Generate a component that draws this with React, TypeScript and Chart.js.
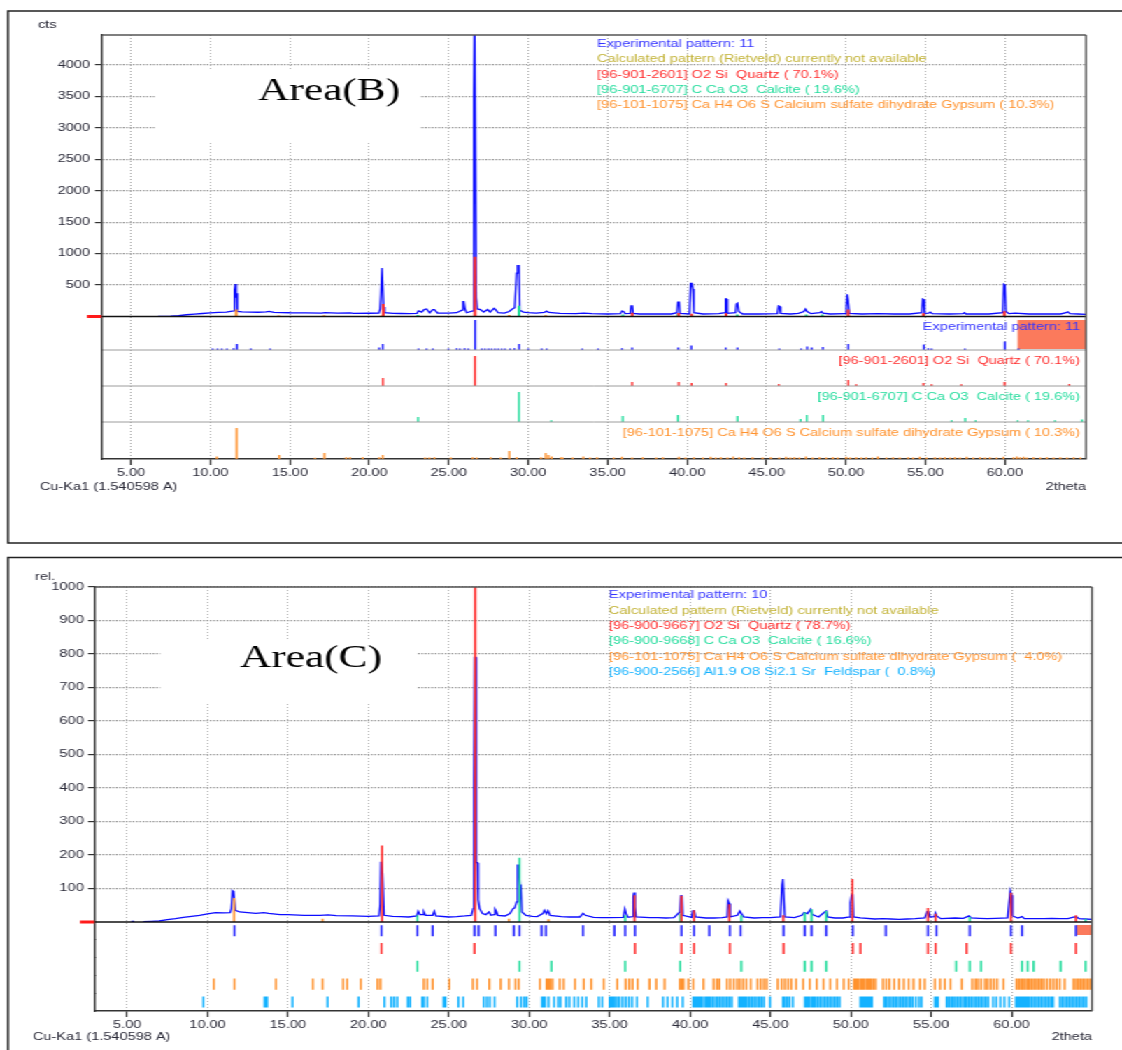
import React, { useEffect, useRef } from 'react';
import { Chart, registerables } from 'chart.js';

Chart.register(...registerables);

// ---------------- data ----------------
const X_TICKS = [5, 10, 15, 20, 25, 30, 35, 40, 45, 50, 55, 60];
const B_Y_TICKS = [0, 500, 1000, 1500, 2000, 2500, 3000, 3500, 4000];
const C_Y_TICKS = [0, 100, 200, 300, 400, 500, 600, 700, 800, 900, 1000];

const B_LEGEND = [
  'Experimental pattern: 11',
  'Calculated pattern (Rietveld) currently not available',
  '[96-901-2601] O2 Si  Quartz ( 70.1%)',
  '[96-901-6707] C Ca O3  Calcite ( 19.6%)',
  '[96-101-1075] Ca H4 O6 S Calcium sulfate dihydrate Gypsum ( 10.3%)',
];
const B_ROW_LABELS = [
  'Experimental pattern: 11',
  '[96-901-2601] O2 Si  Quartz ( 70.1%)',
  '[96-901-6707] C Ca O3  Calcite ( 19.6%)',
  '[96-101-1075] Ca H4 O6 S Calcium sulfate dihydrate Gypsum ( 10.3%)',
];
const C_LEGEND = [
  'Experimental pattern: 10',
  'Calculated pattern (Rietveld) currently not available',
  '[96-900-9667] O2 Si  Quartz ( 78.7%)',
  '[96-900-9668] C Ca O3  Calcite ( 16.6%)',
  '[96-101-1075] Ca H4 O6 S Calcium sulfate dihydrate Gypsum (  4.0%)',
  '[96-900-2566] Al1.9 O8 Si2.1 Sr  Feldspar (  0.8%)',
];

// Area(B) experimental pattern [2theta, cts]
const B_PATTERN = [
  [6.7, 3], [7.5, 5], [8.0, 12], [8.5, 28], [9.0, 38], [9.5, 48], [10.0, 58], [10.5, 66], [11.0, 70],
  [11.47, 90], [11.52, 420], [11.57, 517], [11.62, 300], [11.66, 370], [11.7, 80], [12.0, 75], [12.5, 70],
  [13.0, 68], [13.5, 72], [13.7, 80], [14.0, 66], [15.0, 60], [16.0, 58], [17.0, 55], [17.2, 62], [18.0, 55],
  [18.8, 58], [19.0, 50], [20.0, 52], [20.6, 55], [20.68, 120], [20.73, 340], [20.8, 770], [20.86, 770],
  [20.9, 150], [20.96, 60], [21.5, 50], [22.0, 48], [22.5, 45], [23.0, 50], [23.1, 90], [23.3, 70],
  [23.45, 110], [23.6, 120], [23.8, 60], [24.0, 110], [24.1, 110], [24.3, 55], [25.0, 55], [25.5, 60],
  [25.83, 100], [25.9, 235], [25.95, 235], [26.02, 120], [26.12, 60], [26.52, 90], [26.58, 3500],
  [26.63, 4800], [26.68, 4800], [26.73, 300], [26.8, 120], [27.0, 110], [27.2, 70], [27.45, 110],
  [27.6, 70], [27.85, 130], [27.95, 110], [28.1, 60], [28.5, 55], [28.8, 80], [29.0, 120], [29.15, 140],
  [29.27, 690], [29.33, 808], [29.42, 808], [29.47, 100], [29.7, 70], [30.0, 60], [30.5, 55], [31.0, 65],
  [31.15, 85], [31.3, 65], [32.0, 50], [33.0, 45], [33.5, 55], [34.0, 45], [35.0, 40], [35.8, 45],
  [35.9, 87], [36.0, 80], [36.1, 45], [36.42, 50], [36.47, 170], [36.55, 180], [36.6, 50], [37.0, 40],
  [38.0, 40], [39.0, 40], [39.36, 60], [39.42, 230], [39.5, 230], [39.55, 50], [40.15, 40], [40.22, 528],
  [40.3, 528], [40.36, 437], [40.42, 60], [41.0, 40], [42.0, 45], [42.37, 60], [42.42, 278], [42.48, 278],
  [42.53, 50], [43.05, 60], [43.1, 200], [43.17, 213], [43.25, 80], [43.5, 40], [44.5, 40], [45.68, 45],
  [45.75, 168], [45.82, 160], [45.88, 50], [46.5, 40], [47.0, 50], [47.35, 80], [47.45, 120], [47.55, 80],
  [47.8, 45], [48.35, 60], [48.45, 78], [48.55, 55], [49.0, 40], [49.95, 45], [50.02, 150], [50.07, 353],
  [50.13, 262], [50.2, 50], [51.0, 40], [52.0, 45], [53.0, 40], [54.0, 40], [54.76, 60], [54.82, 278],
  [54.88, 270], [54.94, 50], [55.2, 55], [55.3, 70], [55.42, 45], [56.5, 40], [57.35, 45], [57.45, 60],
  [57.55, 40], [59.0, 40], [59.86, 60], [59.93, 512], [60.0, 500], [60.06, 80], [60.25, 45], [60.65, 55],
  [61.5, 40], [62.5, 40], [63.5, 40], [63.85, 60], [63.95, 75], [64.1, 45], [64.6, 40], [65.1, 35],
];
// reference sticks drawn inside the Area(B) main plot [2theta, cts]
const B_QTZ_MAIN = [[20.88, 200], [26.65, 950], [36.54, 60], [39.47, 55], [40.28, 45], [42.45, 50], [50.14, 110], [54.87, 50], [59.96, 85]];
const B_CAL_MAIN = [[23.05, 25], [29.42, 170], [35.96, 30], [39.4, 35], [43.15, 30], [47.5, 30], [48.5, 30]];
const B_GYP_MAIN = [[11.62, 110], [14.3, 15], [17.15, 20], [20.75, 15], [28.8, 25], [31.1, 20]];
// stick rows of Area(B) [2theta, relative height]
const B_EXP_ROW = [
  [10.14, 5], [10.45, 5], [10.72, 5], [11.04, 5], [11.46, 6], [11.67, 20], [12.55, 5], [13.76, 5], [20.62, 8],
  [20.85, 20], [23.1, 5], [23.6, 5], [24.0, 5], [24.98, 5], [25.5, 6], [25.7, 5], [26.0, 6], [26.23, 5],
  [26.66, 100], [27.08, 5], [27.28, 5], [27.5, 5], [27.7, 5], [27.91, 5], [28.12, 5], [28.33, 5], [28.54, 5],
  [28.86, 5], [29.13, 6], [29.43, 20], [30.0, 5], [30.85, 5], [31.16, 5], [33.4, 5], [34.4, 5], [35.9, 6],
  [36.54, 8], [39.44, 8], [40.26, 15], [42.43, 8], [43.17, 8], [45.8, 5], [47.17, 5], [47.55, 12], [47.84, 8],
  [48.54, 10], [50.14, 20], [54.9, 18], [55.17, 6], [55.38, 5], [57.48, 5], [60.0, 28], [60.85, 5],
];
const B_QTZ_ROW = [
  [20.86, 27], [26.65, 100], [36.54, 13], [39.47, 13], [40.28, 10], [42.45, 10], [45.77, 7], [50.14, 20],
  [50.64, 6], [54.87, 10], [55.38, 6], [57.25, 6], [59.98, 13], [64.05, 7],
];
const B_CAL_ROW = [
  [23.07, 17], [29.42, 100], [31.45, 6], [35.95, 20], [39.42, 23], [43.17, 20], [47.14, 10], [47.53, 23],
  [48.55, 23], [56.65, 6], [57.5, 13], [58.15, 6], [60.8, 6], [61.45, 6], [63.15, 6], [64.85, 8],
];
const B_GYP_ROW = [
  [10.41, 8], [11.65, 100], [14.33, 13], [16.59, 4], [17.18, 19], [18.54, 6], [18.79, 6], [19.59, 6],
  [20.62, 6], [20.85, 13], [23.51, 5], [23.78, 5], [24.1, 6], [25.13, 5], [26.51, 6], [26.76, 5], [27.64, 6],
  [28.27, 5], [28.81, 26], [29.28, 6], [30.81, 6], [31.1, 19], [31.27, 13], [31.48, 8], [32.07, 6], [32.17, 5],
  [32.8, 5], [33.47, 8], [33.89, 5], [34.33, 6], [35.38, 5], [35.9, 7], [36.54, 5], [37.21, 6], [38.05, 5],
  [38.47, 6], [39.48, 7], [39.9, 5], [40.43, 6], [41.0, 5], [41.48, 7], [41.8, 5], [42.12, 6], [42.54, 5],
  [42.9, 8], [43.27, 6], [43.59, 5], [44.12, 6], [44.75, 5], [45.27, 6], [45.8, 5], [46.22, 7], [46.49, 5],
  [46.75, 6], [47.06, 5], [47.48, 8], [47.9, 5], [48.33, 6], [48.75, 5], [49.17, 6], [49.48, 5], [50.01, 7],
  [50.26, 5], [50.64, 6], [50.96, 5], [51.27, 6], [51.65, 5], [52.01, 8], [52.54, 5], [52.96, 6], [53.38, 5],
  [53.91, 6], [54.22, 5], [54.64, 7], [55.06, 5], [55.59, 6], [55.91, 5], [56.22, 6], [56.54, 5], [56.85, 6],
  [57.17, 5], [57.59, 7], [58.01, 5], [58.43, 6], [58.75, 5], [59.06, 6], [59.48, 5], [59.91, 7], [60.54, 6],
  [60.75, 8], [60.96, 6], [61.17, 7], [61.38, 5], [61.8, 6], [62.22, 5], [62.64, 6], [63.06, 5], [63.48, 6],
  [63.91, 5], [64.33, 6], [64.75, 5],
];

// Area(C) experimental pattern [2theta, rel.]
const C_PATTERN = [
  [5.25, 2], [5.45, 2], [5.46, null], [6.0, 1], [6.5, 2], [7.0, 3], [7.5, 7], [8.0, 10], [8.5, 14], [9.0, 17],
  [9.5, 20], [10.0, 24], [10.5, 28], [11.0, 27], [11.4, 28], [11.48, 40], [11.55, 93], [11.62, 90],
  [11.68, 60], [11.73, 35], [12.0, 30], [12.5, 28], [13.0, 26], [13.5, 28], [13.8, 26], [14.5, 22], [15.0, 22],
  [16.0, 20], [17.0, 20], [17.5, 21], [18.0, 19], [19.0, 18], [20.0, 17], [20.66, 18], [20.73, 50],
  [20.78, 180], [20.84, 180], [20.88, 146], [20.93, 146], [20.98, 20], [21.5, 17], [22.0, 16], [22.5, 15],
  [23.0, 18], [23.1, 32], [23.2, 22], [23.4, 22], [23.45, 30], [23.55, 20], [24.0, 20], [24.1, 32], [24.2, 18],
  [25.0, 15], [25.5, 16], [26.0, 18], [26.4, 20], [26.52, 40], [26.56, 425], [26.62, 790], [26.68, 790],
  [26.72, 177], [26.78, 177], [26.83, 66], [26.92, 40], [27.1, 25], [27.3, 22], [27.5, 30], [27.62, 20],
  [27.82, 22], [27.88, 38], [27.95, 32], [28.05, 20], [28.5, 18], [28.8, 25], [29.0, 40], [29.1, 42],
  [29.22, 60], [29.28, 170], [29.35, 170], [29.42, 110], [29.48, 110], [29.55, 30], [29.8, 20], [30.2, 17],
  [30.5, 16], [30.85, 25], [30.95, 35], [31.07, 25], [31.17, 34], [31.3, 20], [32.0, 16], [32.5, 15],
  [33.15, 15], [33.35, 26], [33.5, 20], [34.0, 14], [34.5, 13], [35.0, 13], [35.85, 14], [35.95, 39],
  [36.03, 25], [36.15, 14], [36.42, 16], [36.47, 76], [36.52, 88], [36.58, 45], [36.65, 15], [37.5, 13],
  [38.0, 13], [38.5, 12], [39.0, 13], [39.37, 30], [39.42, 78], [39.5, 78], [39.55, 20], [40.1, 14],
  [40.17, 33], [40.27, 33], [40.35, 15], [41.0, 12], [41.5, 12], [42.0, 13], [42.32, 15], [42.37, 63],
  [42.45, 55], [42.5, 15], [42.95, 20], [43.1, 33], [43.2, 25], [43.35, 15], [44.0, 12], [44.5, 13],
  [45.0, 13], [45.62, 15], [45.72, 110], [45.78, 128], [45.84, 70], [45.9, 15], [46.5, 13], [46.95, 20],
  [47.1, 28], [47.3, 25], [47.5, 38], [47.62, 22], [48.0, 15], [48.38, 30], [48.48, 33], [48.56, 15],
  [49.0, 12], [49.5, 12], [49.93, 15], [49.98, 58], [50.05, 81], [50.12, 81], [50.17, 15], [50.6, 12],
  [51.5, 9], [52.0, 10], [52.5, 9], [53.0, 8], [53.5, 9], [54.0, 10], [54.6, 12], [54.75, 31], [54.85, 31],
  [54.93, 15], [55.2, 16], [55.26, 27], [55.34, 18], [55.6, 10], [56.5, 12], [57.0, 11], [57.35, 18],
  [57.48, 12], [58.0, 11], [58.5, 10], [59.0, 11], [59.75, 12], [59.85, 60], [59.92, 93], [60.0, 80],
  [60.06, 18], [60.4, 12], [60.65, 16], [60.8, 10], [61.5, 10], [62.0, 10], [62.5, 11], [63.0, 10],
  [63.5, 10], [63.9, 15], [64.05, 15], [64.2, 10], [64.6, 9], [65.0, 8],
];
const C_QTZ_MAIN = [[20.85, 228], [26.64, 1050], [36.55, 80], [39.47, 78], [40.25, 35], [42.45, 53], [45.8, 20], [50.1, 128], [54.8, 42], [55.27, 25], [59.96, 87], [64.0, 20]];
const C_CAL_MAIN = [[23.05, 20], [29.4, 192], [35.97, 20], [39.39, 25], [43.19, 20], [47.14, 28], [47.56, 38], [48.47, 33], [57.4, 15], [64.6, 10]];
const C_GYP_MAIN = [[11.65, 72], [17.15, 10], [28.74, 10], [31.2, 8]];
// stick rows of Area(C) (2theta positions)
const C_EXP_ROW = [11.67, 20.81, 23.05, 24.0, 26.6, 26.85, 27.9, 29.05, 29.4, 30.77, 31.04, 33.35, 35.3, 35.97, 36.58, 39.47, 40.25, 41.2, 42.48, 43.15, 45.82, 47.14, 47.56, 48.47, 50.13, 52.18, 54.8, 55.33, 57.4, 59.96, 60.65, 64.0];
const C_QTZ_ROW = [20.81, 26.6, 36.58, 39.47, 40.25, 42.48, 45.82, 50.13, 50.6, 54.8, 55.27, 57.2, 59.96, 64.0];
const C_CAL_ROW = [23.05, 29.4, 31.38, 35.97, 39.39, 43.19, 47.14, 47.56, 48.47, 56.55, 57.4, 58.1, 60.65, 61.0, 61.37, 63.05, 64.6];
const C_GYP_ROW = [
  10.39, 11.67, 14.25, 16.55, 17.15, 18.43, 18.68, 19.53, 20.57, 20.75, 23.45, 23.66, 24.0, 25.04, 26.5, 26.76,
  27.52, 28.23, 28.74, 29.15, 29.35, 30.67, 31.08, 31.2, 31.3, 31.45, 31.9, 32.15, 32.85, 33.4, 33.86, 34.64,
  35.48, 36.0, 36.22, 36.43, 36.74, 37.48, 37.9, 38.42, 39.37, 39.5, 39.6, 39.9, 40.2, 40.84, 41.47, 41.68,
  41.83, 42.3, 42.5, 42.73, 42.94, 43.1, 43.3, 43.5, 43.78, 44.2, 44.4, 44.6, 44.77, 45.46, 45.7, 45.9, 46.1,
  46.3, 46.6, 47.04, 47.45, 47.88, 48.3, 48.72, 49.14, 49.56, 49.87, 50.2, 50.32, 50.45, 50.6, 50.72, 50.85,
  51.0, 51.12, 51.25, 51.4, 51.55, 52.0, 52.2, 52.4, 52.7, 53.0, 53.3, 53.6, 53.9, 54.3, 54.6, 55.23, 55.55,
  55.85, 56.2, 56.9, 57.55, 57.75, 57.9, 58.1, 58.35, 58.5, 58.7, 58.9, 59.1, 59.5, 60.3, 60.45, 60.6, 60.7,
  60.85, 61.0, 61.1, 61.25, 61.4, 61.55, 61.7, 61.85, 62.0, 62.2, 62.4, 62.6, 62.8, 63.0, 63.3, 63.85, 64.0,
  64.15, 64.3, 64.45, 64.6, 64.75, 64.9,
];
const C_FSP_ROW = [
  9.74, 13.55, 13.62, 13.7, 15.28, 17.46, 19.39, 21.0, 21.42, 21.6, 21.8, 22.45, 22.6, 23.35, 23.45, 23.66,
  24.68, 24.8, 25.6, 25.9, 27.17, 27.37, 27.55, 27.85, 29.25, 29.5, 29.7, 29.85, 30.8, 30.9, 30.98, 31.2,
  31.55, 31.8, 31.95, 32.3, 32.5, 32.8, 33.05, 33.3, 33.55, 34.33, 34.54, 35.0, 35.1, 35.2, 35.3, 35.45,
  35.6, 35.8, 36.0, 36.2, 36.4, 36.7, 37.37, 38.32, 38.6, 38.9, 39.2, 39.55, 40.2, 40.32, 40.45, 40.58,
  40.7, 40.85, 41.0, 41.12, 41.25, 41.4, 41.55, 41.7, 41.85, 42.0, 42.15, 42.3, 42.45, 42.6, 43.05, 43.15,
  43.25, 43.35, 43.45, 43.55, 43.7, 43.85, 44.0, 44.15, 44.3, 44.45, 44.6, 44.98, 45.78, 45.9, 46.05, 46.2,
  46.4, 47.15, 47.28, 47.4, 47.55, 47.68, 47.8, 47.95, 48.1, 48.25, 48.4, 48.55, 48.7, 48.85, 49.0, 49.15,
  49.3, 50.6, 50.68, 50.76, 50.84, 50.92, 51.0, 51.08, 51.16, 51.24, 51.32, 52.08, 52.2, 52.35, 52.5, 52.65,
  52.8, 52.95, 53.1, 53.25, 53.4, 53.55, 53.7, 53.85, 54.05, 54.25, 54.4, 55.23, 55.33, 55.42, 55.96, 56.1,
  56.25, 56.35, 56.5, 56.65, 56.8, 56.95, 57.1, 57.2, 57.35, 57.5, 57.65, 57.8, 57.95, 58.1, 58.25, 58.4,
  58.55, 58.85, 59.05, 59.3, 59.55, 59.85, 60.27, 60.4, 60.5, 60.6, 60.7, 60.8, 60.9, 61.0, 61.1, 61.25,
  61.4, 61.55, 61.7, 61.85, 62.0, 62.15, 62.3, 62.45, 62.58, 63.0, 63.15, 63.3, 63.45, 63.6, 63.75, 63.9,
  64.05, 64.2, 64.35, 64.5, 64.65,
];

// ---------------- styling ----------------
const LW = 802; // logical width; the figure is stretched horizontally to 1122 px
const SX = 1122 / LW;
const FONT = '"Liberation Sans", Arial, sans-serif';
const FS = 10.4;
const TICK_COLOR = '#2a2a38';
const AXIS = '#333';
const GRID = '#9a9a9a';
const HGRID = '#8a8a8a';
const PATTERN_BLUE = '#0d0dff';
const BLUE = '#3434ff';
const OLIVE = '#c2b236';
const RED = '#ff2e2e';
const GREEN = '#22dc9c';
const ORANGE = '#ff922e';
const LBLUE = '#14b2ff';
const SALMON = '#fb7a5c';

const toLine = (pairs: any[][]) => pairs.map(([x, y]) => ({ x, y }));
const toSticks = (pairs: number[][]) => {
  const out: any[] = [];
  for (const [x, h] of pairs) out.push({ x, y: 0 }, { x, y: h }, { x, y: null });
  return out;
};
const toMarks = (xs: number[], lo: number, hi: number) => {
  const out: any[] = [];
  for (const x of xs) out.push({ x, y: lo }, { x, y: hi }, { x, y: null });
  return out;
};

const ds = (data: any[], color: string, yAxisID: string, width: number, order: number) => ({
  type: 'line', data, borderColor: color, backgroundColor: color, borderWidth: width,
  pointRadius: 0, pointHoverRadius: 0, fill: false, tension: 0, spanGaps: false,
  borderCapStyle: 'butt', yAxisID, xAxisID: 'x', order,
});

const xScale = (min: number, max: number) => ({
  type: 'linear', position: 'bottom', min, max,
  afterBuildTicks: (s: any) => { s.ticks = X_TICKS.map((v) => ({ value: v })); },
  afterFit: (s: any) => { s.height = 30; },
  ticks: {
    callback: (v: any) => Number(v).toFixed(2), font: { family: FONT, size: FS }, color: TICK_COLOR,
    padding: 2, maxRotation: 0, autoSkip: false,
  },
  grid: { color: GRID, lineWidth: 0.8, tickLength: 6, tickColor: AXIS, tickWidth: 1.2 },
  border: { display: true, color: AXIS, width: 1.4, dash: [1, 2] },
});

const mainY = (max: number, ticks: number[], sw: number, width: number, pad: number) => ({
  type: 'linear', position: 'left', stack: 'v', stackWeight: sw, weight: 10, min: 0, max,
  afterBuildTicks: (s: any) => { s.ticks = ticks.map((v) => ({ value: v })); },
  afterFit: (s: any) => { s.width = width; },
  ticks: {
    callback: (v: any) => (v === 0 ? '' : String(v)), font: { family: FONT, size: FS }, color: TICK_COLOR,
    padding: pad, autoSkip: false,
  },
  grid: {
    color: (c: any) => (c.tick && c.tick.value === 0 ? 'rgba(0,0,0,0)' : HGRID),
    lineWidth: 1.2, drawOnChartArea: true, tickLength: 5, tickColor: AXIS, tickWidth: 1.2,
  },
  border: { display: true, color: AXIS, width: 1.4, dash: [1.2, 1.2] },
});

const rowY = (weight: number, sw: number, max: number, width: number) => ({
  type: 'linear', position: 'left', stack: 'v', stackWeight: sw, weight, min: 0, max,
  afterFit: (s: any) => { s.width = width; },
  ticks: { display: false },
  grid: { display: false, drawTicks: false },
  border: { display: true, color: AXIS, width: 1.4 },
});

const line = (ctx: CanvasRenderingContext2D, x1: number, y1: number, x2: number, y2: number) => {
  ctx.beginPath(); ctx.moveTo(x1, y1); ctx.lineTo(x2, y2); ctx.stroke();
};

function decor(d: any) {
  return {
    id: 'decor',
    beforeDatasetsDraw(chart: any) {
      const { ctx, chartArea: a, scales } = chart;
      ctx.save();
      ctx.fillStyle = '#fff';
      ctx.fillRect(d.whiteBox[0], d.whiteBox[1], d.whiteBox[2], d.whiteBox[3]);
      const r = scales[d.salmon.axis];
      const x0 = scales.x.getPixelForValue(d.salmon.from);
      ctx.fillStyle = SALMON;
      ctx.fillRect(x0, r.top + d.salmon.t, a.right - x0, r.bottom - r.top - d.salmon.t - d.salmon.b);
      ctx.restore();
    },
    afterDatasetsDraw(chart: any) {
      const { ctx, chartArea: a, scales } = chart;
      const y0 = scales.y.getPixelForValue(0);
      ctx.save();
      ctx.strokeStyle = '#9c9c9c'; ctx.lineWidth = 1;
      for (const id of d.separators) line(ctx, a.left, scales[id].bottom, a.right, scales[id].bottom);
      ctx.strokeStyle = '#111'; ctx.lineWidth = 1.3;
      line(ctx, a.left, y0, a.right, y0);
      ctx.strokeStyle = '#ff1a1a'; ctx.lineWidth = 3;
      line(ctx, d.markerX, y0, a.left - 0.5, y0);
      ctx.strokeStyle = '#555'; ctx.lineWidth = 1.4;
      line(ctx, a.left, a.top, a.right, a.top);
      line(ctx, a.right, a.top, a.right, a.bottom);
      ctx.restore();
    },
    afterDraw(chart: any) {
      const { ctx, chartArea: a, scales } = chart;
      ctx.save();
      // panel frame
      ctx.strokeStyle = '#222'; ctx.lineWidth = 1.5;
      ctx.strokeRect(d.box[0], d.box[1], d.box[2], d.box[3]);
      // title
      ctx.fillStyle = '#000';
      ctx.font = `31px "Liberation Serif", "Times New Roman", serif`;
      ctx.textBaseline = 'alphabetic'; ctx.textAlign = 'left';
      ctx.fillText(d.title, d.titleX, d.titleY);
      // legend
      ctx.font = `${FS}px ${FONT}`;
      ctx.textBaseline = 'middle';
      d.legend.forEach((t: string, i: number) => {
        ctx.fillStyle = d.legendColors[i];
        ctx.fillText(t, d.legendX, d.legendY[i]);
      });
      // row labels
      ctx.textAlign = 'right';
      (d.rowLabels || []).forEach((t: string, i: number) => {
        const r = scales[d.rowIds[i]];
        ctx.fillStyle = d.rowColors[i];
        ctx.fillText(t, a.right - 4.3, r.top + 11);
      });
      // axis captions
      ctx.fillStyle = TICK_COLOR;
      ctx.textAlign = 'left';
      ctx.fillText(d.unit, d.unitX, d.unitY);
      ctx.fillText('Cu-Ka1 (1.540598 A)', d.cuX, 487);
      ctx.textAlign = 'right';
      ctx.fillText('2theta', a.right, 487);
      ctx.restore();
    },
  };
}

function buildTop(): any {
  const left = 102 / SX;
  const right = 1086 / SX;
  const datasets = [
    ds(toLine(B_PATTERN), PATTERN_BLUE, 'y', 1.3, 5),
    ds(toSticks(B_QTZ_MAIN), RED, 'y', 2, 1),
    ds(toSticks(B_CAL_MAIN), GREEN, 'y', 2, 2),
    ds(toSticks(B_GYP_MAIN), ORANGE, 'y', 2, 3),
    ds(toSticks(B_EXP_ROW), '#2020ff', 'r1', 1.4, 0),
    ds(toSticks(B_QTZ_ROW), RED, 'r2', 1.4, 0),
    ds(toSticks(B_CAL_ROW), GREEN, 'r3', 1.4, 0),
    ds(toSticks(B_GYP_ROW), ORANGE, 'r4', 1.4, 0),
  ];
  return {
    type: 'line',
    data: { datasets },
    options: {
      responsive: false, animation: false, devicePixelRatio: 1, events: [],
      layout: { padding: { left: 0, top: 35, right: LW - right, bottom: 61 } },
      plugins: { legend: { display: false }, tooltip: { enabled: false } },
      scales: {
        x: xScale(3.18, 65.1),
        y: mainY(4478, B_Y_TICKS, 281.5, left, 3.6),
        r1: rowY(4, 33.5, 111.7, left),
        r2: rowY(3, 36, 120, left),
        r3: rowY(2, 36, 120, left),
        r4: rowY(1, 37, 119, left),
      },
    },
    plugins: [decor({
      whiteBox: [155 / SX, 70, 265 / SX, 73],
      salmon: { axis: 'r1', from: 60.8, t: 3.5, b: 1 },
      separators: ['r1', 'r2', 'r3'],
      markerX: 87 / SX,
      box: [8 / SX, 11, 900, 532],
      title: 'Area(B)', titleX: 258 / SX, titleY: 100,
      legend: B_LEGEND, legendColors: [BLUE, OLIVE, RED, GREEN, ORANGE],
      legendX: 597 / SX, legendY: [44, 59.5, 75, 90, 105.5],
      rowLabels: B_ROW_LABELS, rowIds: ['r1', 'r2', 'r3', 'r4'], rowColors: [BLUE, RED, GREEN, ORANGE],
      unit: 'cts', unitX: 38 / SX, unitY: 25,
      cuX: 40 / SX,
    })],
  };
}

function buildBottom(): any {
  const left = 95 / SX;
  const right = 1092 / SX;
  const LO = 0.2;
  const HI = 0.82;
  const datasets = [
    ds(toLine(C_PATTERN), PATTERN_BLUE, 'y', 1.3, 5),
    ds(toSticks(C_QTZ_MAIN), RED, 'y', 1.6, 1),
    ds(toSticks(C_CAL_MAIN), GREEN, 'y', 1.6, 2),
    ds(toSticks(C_GYP_MAIN), ORANGE, 'y', 1.6, 3),
    ds(toMarks(C_EXP_ROW, LO, HI), '#2020ff', 'r1', 1.5, 0),
    ds(toMarks(C_QTZ_ROW, LO, HI), RED, 'r2', 1.5, 0),
    ds(toMarks(C_CAL_ROW, LO, HI), GREEN, 'r3', 1.5, 0),
    ds(toMarks(C_GYP_ROW, LO, HI), ORANGE, 'r4', 1.5, 0),
    ds(toMarks(C_FSP_ROW, LO, HI), LBLUE, 'r5', 1.5, 0),
  ];
  return {
    type: 'line',
    data: { datasets },
    options: {
      responsive: false, animation: false, devicePixelRatio: 1, events: [],
      layout: { padding: { left: 0, top: 37, right: LW - right, bottom: 9 } },
      plugins: { legend: { display: false }, tooltip: { enabled: false } },
      scales: {
        x: xScale(3.0, 65.0),
        y: mainY(1000, C_Y_TICKS, 335, left, 3),
        r1: rowY(5, 17.8, 1, left),
        r2: rowY(4, 17.8, 1, left),
        r3: rowY(3, 17.8, 1, left),
        r4: rowY(2, 17.8, 1, left),
        r5: rowY(1, 17.8, 1, left),
      },
    },
    plugins: [decor({
      whiteBox: [160 / SX, 90, 257 / SX, 63],
      salmon: { axis: 'r1', from: 64.0, t: 3, b: 4.8 },
      separators: [],
      markerX: 80 / SX,
      box: [8 / SX, 7.5, 900, 600],
      title: 'Area(C)', titleX: 240 / SX, titleY: 117,
      legend: C_LEGEND, legendColors: [BLUE, OLIVE, RED, GREEN, ORANGE, LBLUE],
      legendX: 609 / SX, legendY: [45, 60.7, 76, 91, 106.7, 121.7],
      rowLabels: [], rowIds: [], rowColors: [],
      unit: 'rel.', unitX: 35 / SX, unitY: 27,
      cuX: 33 / SX,
    })],
  };
}

export default function App() {
  const topRef = useRef<HTMLCanvasElement>(null);
  const botRef = useRef<HTMLCanvasElement>(null);
  useEffect(() => {
    const c1 = new Chart(topRef.current as HTMLCanvasElement, buildTop());
    const c2 = new Chart(botRef.current as HTMLCanvasElement, buildBottom());
    return () => { c1.destroy(); c2.destroy(); };
  }, []);
  return (
    <div
      style={{
        position: 'absolute', left: 0, top: 0, width: LW, height: 1050, background: '#fff',
        transform: `scaleX(${SX})`, transformOrigin: '0 0', overflow: 'hidden',
      }}
    >
      <canvas ref={topRef} width={LW} height={550}
        style={{ position: 'absolute', left: 0, top: 0, width: LW, height: 550 }} />
      <canvas ref={botRef} width={LW} height={500}
        style={{ position: 'absolute', left: 0, top: 550, width: LW, height: 500 }} />
    </div>
  );
}
